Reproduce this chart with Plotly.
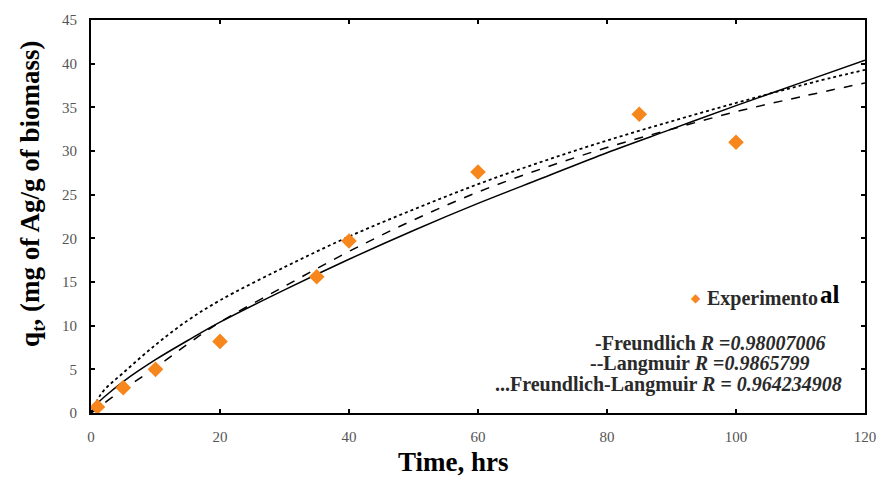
import plotly.graph_objects as go

# Experimental sorption data (time in hours, q_t in mg Ag / g biomass)
time_exp = [1, 5, 10, 20, 35, 40, 60, 85, 100]
q_exp = [0.7, 2.9, 5.0, 8.2, 15.6, 19.7, 27.6, 34.2, 31.0]

# Model curves sampled along the time axis
time_model = [0, 1, 2, 5, 10, 15, 20, 30, 40, 50, 60, 70, 80, 90, 100, 110, 120]
q_freundlich = [0, 1.1, 1.8, 3.6, 6.1, 8.3, 10.4, 14.1, 17.6, 20.9, 24.0, 26.9, 29.8, 32.5, 35.2, 37.8, 40.4]
q_langmuir = [0, 0.5, 1.1, 2.7, 5.2, 7.9, 10.4, 14.5, 18.5, 22.1, 25.3, 28.0, 30.4, 32.5, 34.5, 36.2, 37.8]
q_freundlich_langmuir = [0, 1.5, 2.6, 4.6, 7.8, 10.6, 12.9, 16.7, 20.2, 23.3, 26.2, 28.8, 31.2, 33.4, 35.5, 37.5, 39.3]

x_ticks = [0, 20, 40, 60, 80, 100, 120]
y_ticks = [0, 5, 10, 15, 20, 25, 30, 35, 40, 45]

SERIF = "Liberation Serif, Times New Roman, serif"

fig = go.Figure()

fig.add_trace(go.Scatter(
    x=time_model, y=q_freundlich, mode="lines",
    line=dict(color="black", width=1.5, shape="spline"),
    name="Freundlich", showlegend=False))
fig.add_trace(go.Scatter(
    x=time_model, y=q_langmuir, mode="lines",
    line=dict(color="black", width=1.5, dash="dash", shape="spline"),
    name="Langmuir", showlegend=False))
fig.add_trace(go.Scatter(
    x=time_model, y=q_freundlich_langmuir, mode="lines",
    line=dict(color="black", width=1.8, dash="dot", shape="spline"),
    name="Freundlich-Langmuir", showlegend=False))
fig.add_trace(go.Scatter(
    x=time_exp, y=q_exp, mode="markers",
    marker=dict(symbol="diamond", size=12, color="#F7861C"),
    name="Experimental", showlegend=False))

axis_common = dict(
    showline=True, linecolor="black", linewidth=2, mirror="allticks",
    ticks="inside", ticklen=4, tickwidth=1.5, tickcolor="black",
    showgrid=False, zeroline=False,
    tickfont=dict(family=SERIF, size=15, color="#555555"),
)

fig.update_xaxes(range=[0, 120], tickvals=x_ticks, ticklabelstandoff=9, **axis_common)
fig.update_yaxes(range=[0, 45], tickvals=y_ticks, ticklabelstandoff=9, **axis_common)

LEG = "#2a2a2a"
annotations = [
    # axis titles
    dict(x=458, y=462, text="<b>Time, hrs</b>", xanchor="center", yanchor="middle",
         font=dict(family=SERIF, size=27, color="black")),
    dict(x=32, y=192, text="<b>q<sub>t</sub>, (mg of Ag/g of biomass)</b>", textangle=-90,
         xanchor="center", yanchor="middle",
         font=dict(family=SERIF, size=27, color="black")),
    # legend block
    dict(x=703, y=297, text="◆", xanchor="center", yanchor="middle",
         font=dict(family="DejaVu Sans", size=12, color="#F7861C")),
    dict(x=712, y=297, text="<b>Experimento</b>", xanchor="left", yanchor="middle",
         font=dict(family=SERIF, size=20, color=LEG)),
    dict(x=851, y=293, text="<b>al</b>", xanchor="right", yanchor="middle",
         font=dict(family=SERIF, size=25, color="black")),
    dict(x=837, y=342, text="<b>-Freundlich <i>R</i> =<i>0.98007006</i></b>",
         xanchor="right", yanchor="middle", font=dict(family=SERIF, size=20, color=LEG)),
    dict(x=819, y=363, text="<b>--Langmuir <i>R</i> =<i>0.9865799</i></b>",
         xanchor="right", yanchor="middle", font=dict(family=SERIF, size=20, color=LEG)),
    dict(x=853, y=384, text="<b>...Freundlich-Langmuir <i>R</i> = <i>0.964234908</i></b>",
         xanchor="right", yanchor="middle", font=dict(family=SERIF, size=20, color=LEG)),
]

# annotations above are positioned in pixels; convert to paper coordinates
W, H = 888, 477
L, R, T, B = 91, 14, 16, 64
pw, ph = W - L - R, H - T - B
for a in annotations:
    a["xref"] = "paper"
    a["yref"] = "paper"
    a["showarrow"] = False
    a["x"] = (a["x"] - L) / pw
    a["y"] = 1 - (a["y"] - T) / ph

fig.update_layout(
    width=W, height=H,
    margin=dict(l=L, r=R, t=T, b=B),
    paper_bgcolor="white", plot_bgcolor="white",
    annotations=annotations,
    showlegend=False,
)

fig.write_html("out.html")
